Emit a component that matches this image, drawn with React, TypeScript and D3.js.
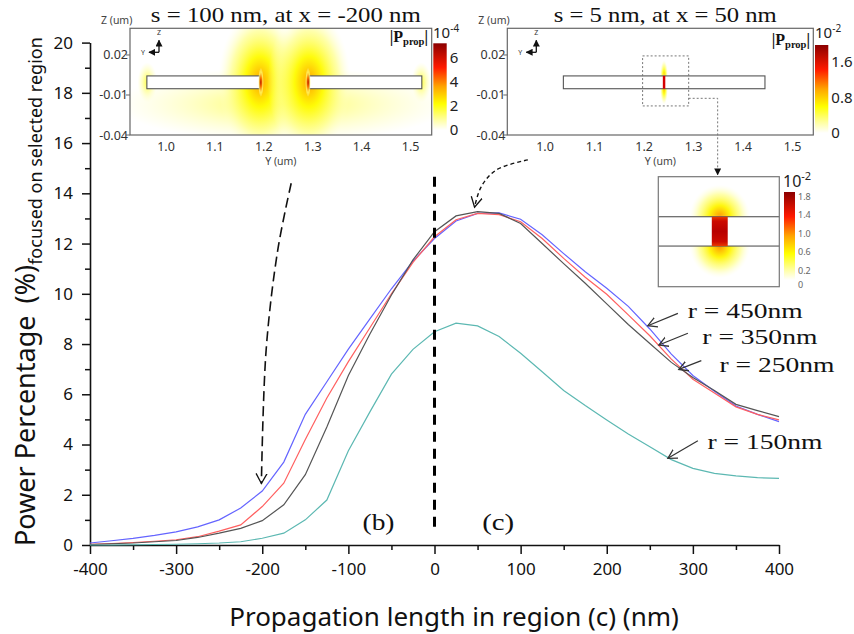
import React, { useEffect, useRef } from "react";
import * as d3 from "d3";

// propagation length (nm) sampled every 25 nm
const lengthNm = [-400, -375, -350, -325, -300, -275, -250, -225, -200, -175, -150, -125, -100, -75, -50, -25, 0,
  25, 50, 75, 100, 125, 150, 175, 200, 225, 250, 275, 300, 325, 350, 375, 400];

// power percentage focused on selected region (%)
const r450 = [0.08, 0.17, 0.26, 0.38, 0.52, 0.72, 1.0, 1.47, 2.15, 3.3, 5.2, 6.5, 7.8, 9.0, 10.2, 11.3, 12.2,
  12.9, 13.2, 13.22, 12.97, 12.35, 11.6, 10.88, 10.22, 9.5, 8.6, 7.6, 6.75, 6.12, 5.53, 5.2, 4.91];
const r350 = [0.03, 0.06, 0.1, 0.15, 0.21, 0.33, 0.55, 0.8, 1.53, 2.46, 4.2, 5.85, 7.3, 8.65, 10.0, 11.25, 12.27,
  12.95, 13.2, 13.15, 12.87, 12.2, 11.41, 10.66, 9.98, 9.16, 8.33, 7.4, 6.6, 6.05, 5.5, 5.2, 4.98];
const r250 = [0.02, 0.05, 0.08, 0.13, 0.18, 0.3, 0.47, 0.66, 0.97, 1.6, 2.8, 4.7, 6.75, 8.4, 9.95, 11.35, 12.47,
  13.1, 13.27, 13.2, 12.8, 12.0, 11.2, 10.42, 9.6, 8.78, 8.02, 7.27, 6.67, 6.15, 5.6, 5.35, 5.11];
const r150 = [0, 0, 0.01, 0.02, 0.03, 0.05, 0.08, 0.13, 0.27, 0.47, 1.0, 1.79, 3.75, 5.3, 6.8, 7.79, 8.49,
  8.83, 8.72, 8.3, 7.63, 6.9, 6.15, 5.55, 4.98, 4.42, 3.91, 3.4, 3.05, 2.85, 2.75, 2.68, 2.65];

const seriesNames = ["r = 450nm", "r = 350nm", "r = 250nm", "r = 150nm"];
const seriesColors = ["#6464ff", "#ff6060", "#555555", "#5cb8b2"];

const xTicks = [-400, -300, -200, -100, 0, 100, 200, 300, 400];
const xMinor = [-350, -250, -150, -50, 50, 150, 250, 350];
const yTicks = [0, 2, 4, 6, 8, 10, 12, 14, 16, 18, 20];
const yMinor = [1, 3, 5, 7, 9, 11, 13, 15, 17, 19];

// annotations, in data units (nm, %)
const labelAnchors = [[294, 9.02], [311, 7.99], [331, 6.9], [317, 3.81]];
const labelArrows = [
  [[282.6, 9.22], [247.7, 8.73]],
  [[294.2, 8.43], [260.5, 7.96]],
  [[309.8, 7.34], [283.7, 6.99]],
  [[305.8, 4.15], [271, 3.45]],
];
const arrowToB = [[-166.4, 14.4], [-182, 11.74], [-195.5, 7.76], [-201, 2.45]];
const arrowToC = [[108.4, 15.33], [71.7, 14.93], [54.2, 14.26], [46.5, 13.45]];
const zeroLine = [0.48, 14.66];
const regionLabels = [["(b)", -65, 0.6], ["(c)", 74, 0.6]];

// field maps (um)
const mapYTicks = [1.0, 1.1, 1.2, 1.3, 1.4, 1.5];
const mapZTicks = [0.02, -0.01, -0.04];
const guideZ = [-0.0053, 0.0043];
const wideGuides = [[0.961, 1.192], [1.2925, 1.523]];
const narrowGuide = [1.037, 1.444];
const narrowGap = [1.2378, 1.2428];
const zoomWindow = [[1.197, 1.29], [-0.0182, 0.0193]];
const glows100 = [
  { y: 1.24, z: -0.017, ry: 0.34, rz: 0.028, level: 0.2 },
  { y: 1.192, z: 0.0, ry: 0.085, rz: 0.054, level: 0.5 },
  { y: 1.2925, z: 0.0, ry: 0.085, rz: 0.054, level: 0.5 },
  { y: 0.962, z: -0.0005, ry: 0.02, rz: 0.015, level: 0.22 },
  { y: 1.522, z: -0.0005, ry: 0.02, rz: 0.015, level: 0.22 },
];
const cores100 = [
  { y: 1.194, z: -0.0005, ry: 0.006, rz: 0.011, level: 0.92 },
  { y: 1.2905, z: -0.0005, ry: 0.006, rz: 0.011, level: 0.92 },
];
const glows5 = [
  { y: 1.2403, z: 0.0043, ry: 0.008, rz: 0.012, level: 0.45 },
  { y: 1.2403, z: -0.0053, ry: 0.008, rz: 0.012, level: 0.45 },
];
const glowsZoom = [
  { y: 1.2403, z: 0.0043, ry: 0.0095, rz: 0.0105, level: 0.52 },
  { y: 1.2403, z: -0.0053, ry: 0.0095, rz: 0.0105, level: 0.52 },
];
const cbar100Ticks = [0, 2, 4, 6];
const cbar5Ticks = [0, 0.8, 1.6];
const cbarZoomTicks = [0, 0.2, 0.6, 1.0, 1.4, 1.8];

const heat = d3.scaleLinear<string>()
  .domain([0, 0.12, 0.3, 0.5, 0.72, 1])
  .range(["#ffffff", "#ffffa0", "#ffff00", "#ffa500", "#ff1a00", "#8b0000"]);

const SANS = "'Noto Sans', sans-serif";
const SERIF = "'Liberation Serif', 'Times New Roman', Times, serif";

export default function App() {
  const ref = useRef<SVGSVGElement>(null);

  useEffect(() => {
    const svg = d3.select(ref.current);
    svg.selectAll("*").remove();
    const defs = svg.append("defs");

    const x = d3.scaleLinear().domain([-400, 400]).range([90, 779]);
    const y = d3.scaleLinear().domain([0, 20]).range([545, 42.6]);

    const openArrow = (id, color, size) => {
      const m = defs.append("marker").attr("id", id).attr("viewBox", `0 ${-size} ${size + 2} ${size * 2}`)
        .attr("refX", size).attr("refY", 0).attr("markerWidth", size + 2).attr("markerHeight", size * 2)
        .attr("markerUnits", "userSpaceOnUse").attr("orient", "auto");
      m.append("path").attr("d", `M0,${-size * 0.55}L${size},0L0,${size * 0.55}`)
        .attr("fill", "none").attr("stroke", color).attr("stroke-width", 1.3);
    };
    openArrow("arrLabel", "#333", 9);
    openArrow("arrDash", "#111", 10);
    const tri = defs.append("marker").attr("id", "tri").attr("viewBox", "0 -5 10 10").attr("refX", 9)
      .attr("markerWidth", 7).attr("markerHeight", 7).attr("markerUnits", "userSpaceOnUse").attr("orient", "auto");
    tri.append("path").attr("d", "M0,-5L10,0L0,5Z").attr("fill", "#111");

    // serif text in the source figure is stretched sideways
    const serifText = (g, xx, yy, size, len, txt, anchor = "start") =>
      g.append("text").attr("x", xx).attr("y", yy).attr("text-anchor", anchor)
        .attr("font-family", SERIF).attr("font-size", size).attr("fill", "#111")
        .attr("textLength", len).attr("lengthAdjust", "spacingAndGlyphs").text(txt);

    // ---- axes
    const styleAxis = (g) => {
      g.attr("font-family", SANS).attr("font-size", 17);
      g.select(".domain").attr("stroke-width", 1.6).attr("stroke", "#111");
      g.selectAll(".tick line").attr("stroke-width", 1.5).attr("stroke", "#111");
      g.selectAll(".tick text").attr("fill", "#111");
    };
    const gxm = svg.append("g").attr("transform", `translate(0,${y(0)})`)
      .call(d3.axisBottom(x).tickValues(xMinor).tickSize(5).tickFormat(() => "").tickSizeOuter(0));
    gxm.select(".domain").remove();
    styleAxis(gxm);
    const gx = svg.append("g").attr("transform", `translate(0,${y(0)})`)
      .call(d3.axisBottom(x).tickValues(xTicks).tickSize(9).tickPadding(9).tickSizeOuter(0).tickFormat(d => String(d)));
    styleAxis(gx);

    const gym = svg.append("g").attr("transform", `translate(${x(-400)},0)`)
      .call(d3.axisLeft(y).tickValues(yMinor).tickSize(5).tickFormat(() => "").tickSizeOuter(0));
    gym.select(".domain").remove();
    styleAxis(gym);
    const gy = svg.append("g").attr("transform", `translate(${x(-400)},0)`)
      .call(d3.axisLeft(y).tickValues(yTicks).tickSize(8).tickPadding(9).tickSizeOuter(0).tickFormat(d => String(d)));
    styleAxis(gy);

    svg.append("text").attr("x", 454).attr("y", 626).attr("text-anchor", "middle")
      .attr("font-family", SANS).attr("font-size", 26).attr("fill", "#111")
      .text("Propagation length in region (c) (nm)");

    const yl = svg.append("text").attr("transform", "translate(35,546) rotate(-90)")
      .attr("font-family", SANS).attr("fill", "#111");
    yl.append("tspan").attr("font-size", 27).text("Power Percentage");
    yl.append("tspan").attr("font-size", 27).attr("dx", 12).text("(%)");
    yl.append("tspan").attr("font-size", 18).attr("dy", 7).text("focused on selected region");

    // ---- curves
    const line = d3.line<number>().x((d, i) => x(lengthNm[i])).y(d => y(d));
    [r450, r350, r250, r150].forEach((s, i) => {
      svg.append("path").datum(s).attr("d", line).attr("fill", "none")
        .attr("stroke", seriesColors[i]).attr("stroke-width", 1.2);
    });

    // zero boundary
    svg.append("line").attr("x1", x(0)).attr("x2", x(0)).attr("y1", y(zeroLine[1])).attr("y2", y(zeroLine[0]))
      .attr("stroke", "#000").attr("stroke-width", 3).attr("stroke-dasharray", "10,7");

    regionLabels.forEach(([t, vx, vy]) => {
      serifText(svg, x(vx as number), y(vy as number), 23, 32, t as string, "middle");
    });

    // series labels with arrows
    seriesNames.forEach((n, i) => {
      const [a, b] = labelArrows[i];
      svg.append("line").attr("x1", x(a[0])).attr("y1", y(a[1])).attr("x2", x(b[0])).attr("y2", y(b[1]))
        .attr("stroke", "#333").attr("stroke-width", 1.2).attr("marker-end", "url(#arrLabel)");
      serifText(svg, x(labelAnchors[i][0]), y(labelAnchors[i][1]), 22, 115, n);
    });

    const curve = d3.line<number[]>().x(d => x(d[0])).y(d => y(d[1])).curve(d3.curveCatmullRom);
    svg.append("path").datum(arrowToB).attr("d", curve).attr("fill", "none").attr("stroke", "#111")
      .attr("stroke-width", 1.6).attr("stroke-dasharray", "10,5").attr("marker-end", "url(#arrDash)");
    svg.append("path").datum(arrowToC).attr("d", curve).attr("fill", "none").attr("stroke", "#111")
      .attr("stroke-width", 1.4).attr("stroke-dasharray", "4,3").attr("marker-end", "url(#arrDash)");

    // ---- field map insets
    let gid = 0;
    const glow = (g, sy, sz, o) => {
      const id = "glow" + gid++;
      const rg = defs.append("radialGradient").attr("id", id);
      const stops = [[0, o.level, 1], [0.35, o.level * 0.62, 0.95], [0.7, Math.min(o.level * 0.32, 0.16), 0.65], [1, 0.05, 0]];
      stops.forEach(([off, l, a]) => rg.append("stop").attr("offset", off).attr("stop-color", heat(l)).attr("stop-opacity", a));
      g.append("ellipse").attr("cx", sy(o.y)).attr("cy", sz(o.z))
        .attr("rx", Math.abs(sy(o.y + o.ry) - sy(o.y))).attr("ry", Math.abs(sz(o.z) - sz(o.z + o.rz)))
        .attr("fill", `url(#${id})`);
    };

    const frame = (left, top, right, bottom, yDom, zDom) => {
      const sy = d3.scaleLinear().domain(yDom).range([left, right]);
      const sz = d3.scaleLinear().domain(zDom).range([bottom, top]);
      const g = svg.append("g");
      const cid = "clip" + gid++;
      defs.append("clipPath").attr("id", cid).append("rect")
        .attr("x", left).attr("y", top).attr("width", right - left).attr("height", bottom - top);
      g.append("rect").attr("x", left).attr("y", top).attr("width", right - left).attr("height", bottom - top).attr("fill", "#fff");
      const inner = g.append("g").attr("clip-path", `url(#${cid})`);
      return { sy, sz, g, inner, left, top, right, bottom };
    };

    const frameDecor = (f, title, titleLen) => {
      const { g, sy, sz, left, top, right, bottom } = f;
      g.append("rect").attr("x", left).attr("y", top).attr("width", right - left).attr("height", bottom - top)
        .attr("fill", "none").attr("stroke", "#666").attr("stroke-width", 1.2);
      mapZTicks.forEach(t => {
        g.append("line").attr("x1", left - 4).attr("x2", left).attr("y1", sz(t)).attr("y2", sz(t)).attr("stroke", "#666");
        g.append("text").attr("x", left - 2).attr("y", sz(t) + 4.5).attr("text-anchor", "end")
          .attr("font-family", SANS).attr("font-size", 12.5).attr("fill", "#333").text(String(t));
      });
      mapYTicks.forEach(t => {
        g.append("text").attr("x", sy(t)).attr("y", bottom + 16).attr("text-anchor", "middle")
          .attr("font-family", SANS).attr("font-size", 12.5).attr("fill", "#333").text(t.toFixed(1));
      });
      g.append("text").attr("x", (left + right) / 2).attr("y", bottom + 30).attr("text-anchor", "middle")
        .attr("font-family", SANS).attr("font-size", 10.5).attr("fill", "#444").text("Y (um)");
      g.append("text").attr("x", left - 29).attr("y", top - 4).attr("font-family", SANS)
        .attr("font-size", 10.5).attr("fill", "#444").text("Z (um)");
      serifText(g, (left + right) / 2 + 5, 22, 22, titleLen, title, "middle");
      // Y / Z orientation icon
      const ox = left + 29, oy = top + 24;
      g.append("line").attr("x1", ox).attr("y1", oy).attr("x2", ox).attr("y2", oy - 12)
        .attr("stroke", "#111").attr("stroke-width", 1.3).attr("marker-end", "url(#tri)");
      g.append("line").attr("x1", ox).attr("y1", oy).attr("x2", ox - 10).attr("y2", oy)
        .attr("stroke", "#111").attr("stroke-width", 1.3).attr("marker-end", "url(#tri)");
      g.append("text").attr("x", ox).attr("y", oy - 17).attr("text-anchor", "middle").attr("font-family", SANS)
        .attr("font-size", 7).attr("fill", "#333").text("Z");
      g.append("text").attr("x", ox - 14).attr("y", oy + 3).attr("text-anchor", "end").attr("font-family", SANS)
        .attr("font-size", 7).attr("fill", "#333").text("Y");
    };

    const pLabel = (xr, yb) => {
      const t = svg.append("text").attr("x", xr).attr("y", yb).attr("text-anchor", "end")
        .attr("font-family", SERIF).attr("font-weight", "bold").attr("fill", "#111");
      t.append("tspan").attr("font-size", 16).text("|P");
      t.append("tspan").attr("font-size", 10.5).attr("dy", 3).text("prop");
      t.append("tspan").attr("font-size", 16).attr("dy", -3).text("|");
    };

    const power = (xl, yb, exp, big, small) => {
      const t = svg.append("text").attr("x", xl).attr("y", yb).attr("font-family", SANS).attr("fill", "#222");
      t.append("tspan").attr("font-size", big).text("10");
      t.append("tspan").attr("font-size", small).attr("dy", -big * 0.42).text(exp);
    };

    // zeroDrop lets the "0" label sit a little below the bar, as in the source
    const colorbar = (xl, top, bottom, w, dom, ticks, fs, fill, fmt, zeroDrop = 0) => {
      const id = "cb" + gid++;
      const lg = defs.append("linearGradient").attr("id", id).attr("x1", 0).attr("y1", 1).attr("x2", 0).attr("y2", 0);
      heat.domain().forEach(v => lg.append("stop").attr("offset", v).attr("stop-color", heat(v)));
      svg.append("rect").attr("x", xl).attr("y", top).attr("width", w).attr("height", bottom - top).attr("fill", `url(#${id})`);
      const s = d3.scaleLinear().domain(dom).range([bottom, top]);
      ticks.forEach(t => {
        svg.append("text").attr("x", xl + w + 3).attr("y", s(t) + fs * 0.36 + (t === 0 ? zeroDrop : 0))
          .attr("font-family", SANS).attr("font-size", fs).attr("fill", fill).text(fmt(t));
      });
    };

    // inset (b): s = 100 nm
    const f1 = frame(130, 28.3, 431.7, 135, [0.9265, 1.5432], [-0.04, 0.04]);
    glows100.forEach(o => glow(f1.inner, f1.sy, f1.sz, o));
    wideGuides.forEach(([a, b]) => {
      f1.inner.append("rect").attr("x", f1.sy(a)).attr("y", f1.sz(guideZ[1])).attr("width", f1.sy(b) - f1.sy(a))
        .attr("height", f1.sz(guideZ[0]) - f1.sz(guideZ[1])).attr("fill", "#fff").attr("stroke", "#555").attr("stroke-width", 1.1);
    });
    cores100.forEach(o => glow(f1.inner, f1.sy, f1.sz, o));
    frameDecor(f1, "s = 100 nm, at x = -200 nm", 270);
    pLabel(428, 42);
    power(433, 38, "-4", 15, 10);
    colorbar(433.3, 43.3, 130, 13.4, [0, 7.2], cbar100Ticks, 15, "#222", t => String(t));

    // inset (c): s = 5 nm
    const f2 = frame(507.3, 28.3, 813.3, 135, [0.9238, 1.5416], [-0.04, 0.04]);
    glows5.forEach(o => glow(f2.inner, f2.sy, f2.sz, o));
    f2.inner.append("rect").attr("x", f2.sy(narrowGuide[0])).attr("y", f2.sz(guideZ[1]))
      .attr("width", f2.sy(narrowGuide[1]) - f2.sy(narrowGuide[0])).attr("height", f2.sz(guideZ[0]) - f2.sz(guideZ[1]))
      .attr("fill", "#fff").attr("stroke", "#555").attr("stroke-width", 1.1);
    f2.inner.append("rect").attr("x", f2.sy(narrowGap[0])).attr("y", f2.sz(guideZ[1]))
      .attr("width", Math.max(2.4, f2.sy(narrowGap[1]) - f2.sy(narrowGap[0]))).attr("height", f2.sz(guideZ[0]) - f2.sz(guideZ[1]))
      .attr("fill", "#d40000");
    f2.inner.append("rect").attr("x", f2.sy(zoomWindow[0][0])).attr("y", f2.sz(zoomWindow[1][1]))
      .attr("width", f2.sy(zoomWindow[0][1]) - f2.sy(zoomWindow[0][0]))
      .attr("height", f2.sz(zoomWindow[1][0]) - f2.sz(zoomWindow[1][1]))
      .attr("fill", "none").attr("stroke", "#777").attr("stroke-width", 1).attr("stroke-dasharray", "2,2");
    frameDecor(f2, "s = 5 nm, at x = 50 nm", 223);
    pLabel(810, 45);
    power(815, 38, "-2", 15, 10);
    colorbar(815, 45, 133, 13.3, [0, 1.98], cbar5Ticks, 15, "#222", t => String(t));

    // magnified gap
    const f3 = frame(658.3, 176.7, 779.3, 286.7, [1.221, 1.259], [-0.0186, 0.0174]);
    glowsZoom.forEach(o => glow(f3.inner, f3.sy, f3.sz, o));
    f3.inner.append("rect").attr("x", f3.left - 2).attr("y", f3.sz(guideZ[1])).attr("width", f3.right - f3.left + 4)
      .attr("height", f3.sz(guideZ[0]) - f3.sz(guideZ[1])).attr("fill", "#fff").attr("stroke", "#555").attr("stroke-width", 1.1);
    const gapGrad = defs.append("linearGradient").attr("id", "gapGrad").attr("x1", 0).attr("y1", 0).attr("x2", 0).attr("y2", 1);
    [[0, "#e83a00"], [0.15, "#cc0a00"], [0.5, "#b80000"], [0.85, "#cc0a00"], [1, "#e83a00"]]
      .forEach(([o, c]) => gapGrad.append("stop").attr("offset", o).attr("stop-color", c));
    f3.inner.append("rect").attr("x", f3.sy(narrowGap[0])).attr("y", f3.sz(guideZ[1]))
      .attr("width", f3.sy(narrowGap[1]) - f3.sy(narrowGap[0])).attr("height", f3.sz(guideZ[0]) - f3.sz(guideZ[1]))
      .attr("fill", "url(#gapGrad)");
    f3.g.append("rect").attr("x", f3.left).attr("y", f3.top).attr("width", f3.right - f3.left).attr("height", f3.bottom - f3.top)
      .attr("fill", "none").attr("stroke", "#777").attr("stroke-width", 1.2);
    power(783, 187, "-2", 16, 11);
    colorbar(784, 192, 280, 11, [0, 1.9], cbarZoomTicks, 9, "#666", t => t === 0 ? "0" : t.toFixed(1), 5);

    // connector from the dotted window to the magnified view
    const cx0 = f2.sy(zoomWindow[0][1]);
    const cy0 = f2.sz(-0.0125);
    const cx1 = f2.sy(1.3485);
    svg.append("path").attr("d", `M${cx0},${cy0}H${cx1}V${f3.top - 2}`).attr("fill", "none")
      .attr("stroke", "#777").attr("stroke-width", 1).attr("stroke-dasharray", "2,2").attr("marker-end", "url(#tri)");
  }, []);

  return (
    <svg ref={ref} width={854} height={634}
      style={{ position: "absolute", left: 0, top: 0, background: "#fff" }} />
  );
}
